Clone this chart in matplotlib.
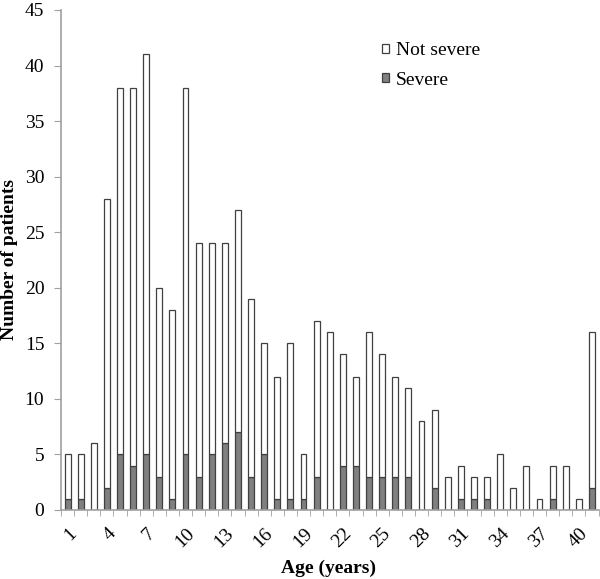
import matplotlib.pyplot as plt
from matplotlib.transforms import ScaledTranslation
import numpy as np

# Age categories and patient counts
ages = list(range(1, 42))
total = [5, 5, 6, 28, 38, 38, 41, 20, 18, 38,
         24, 24, 24, 27, 19, 15, 12, 15, 5, 17,
         16, 14, 12, 16, 14, 12, 11, 8, 9, 3,
         4, 3, 3, 5, 2, 4, 1, 4, 4, 1, 16]
severe = [1, 1, 0, 2, 5, 4, 5, 3, 1, 5,
          3, 5, 6, 7, 3, 5, 1, 1, 1, 3,
          0, 4, 4, 3, 3, 3, 3, 0, 2, 0,
          1, 1, 1, 0, 0, 0, 0, 1, 0, 0, 2]
tick_ages = list(range(1, 41, 3))

not_severe = np.array(total) - np.array(severe)

plt.rcParams['font.family'] = ['Liberation Serif', 'DejaVu Serif']

fig = plt.figure(figsize=(6, 5.79), dpi=100)
ax = fig.add_axes([61 / 600, 69 / 579, 537.5 / 600, 500 / 579])

edge = '#404040'
b1 = ax.bar(ages, severe, width=0.45, color='#808080', edgecolor=edge, linewidth=0.9)
b2 = ax.bar(ages, not_severe, bottom=severe, width=0.45, color='white',
            edgecolor=edge, linewidth=0.9)

ax.set_xlim(0.5, 41.5)
ax.set_ylim(0, 45)
ax.set_yticks(range(0, 46, 5))
ax.set_xticks(tick_ages)
ax.set_xticklabels([str(a) for a in tick_ages], rotation=45, ha='right',
                   va='top', rotation_mode='anchor', fontsize=14)
offset = ScaledTranslation(6 / 100, 0, fig.dpi_scale_trans)
for lbl in ax.get_xticklabels():
    lbl.set_transform(lbl.get_transform() + offset)
ax.set_xticks(np.arange(0.5, 42, 1), minor=True)
ax.tick_params(axis='x', which='major', length=0, pad=11)
ax.tick_params(axis='x', which='minor', length=4, color='#a0a0a0')
ax.tick_params(axis='y', length=5, color='#a0a0a0', labelsize=14, pad=7)

for s in ['top', 'right']:
    ax.spines[s].set_visible(False)
for s in ['left', 'bottom']:
    ax.spines[s].set_color('#a0a0a0')
    ax.spines[s].set_linewidth(1.2)

ax.set_ylabel('Number of patients', fontsize=14, fontweight='bold')
ax.yaxis.set_label_coords(-0.08, 0.5)
ax.set_xlabel('Age (years)', fontsize=14, fontweight='bold')
ax.xaxis.set_label_coords(0.497, -0.10)

ax.legend([b2, b1], ['Not severe', 'Severe'], loc='upper left',
          bbox_to_anchor=(0.579, 0.955), frameon=False, fontsize=14,
          borderpad=0, handlelength=0.35, handleheight=0.35,
          handletextpad=0.35, labelspacing=0.65)

fig.savefig('out.png', dpi=100)
